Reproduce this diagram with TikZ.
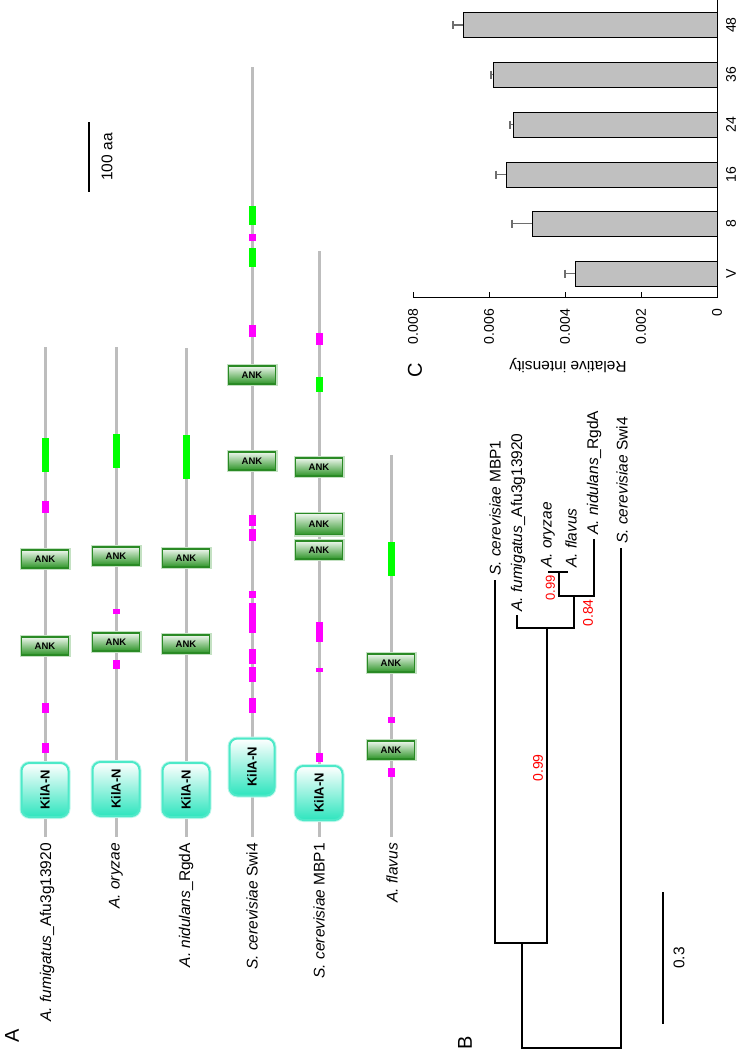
\documentclass[tikz,border=0pt]{standalone}
\usepackage{fontspec}
\setmainfont{Liberation Sans}
\definecolor{DomGrey}{HTML}{BDBDBD}
\definecolor{DomPink}{HTML}{FF00FF}
\definecolor{DomLime}{HTML}{00FF00}
\definecolor{AnkGreen}{HTML}{2E9528}
\definecolor{AnkEdge}{HTML}{2A8A25}
\definecolor{KilaTeal}{HTML}{2EE5BE}
\definecolor{BarGrey}{HTML}{C0C0C0}
\definecolor{ErrGrey}{HTML}{6E6E6E}
\newcommand\spfont{\fontsize{15.5}{18}\selectfont}
\tikzset{chain/.style={draw=DomGrey,line width=3pt},
pinkbit/.style={fill=DomPink},limebit/.style={fill=DomLime},
ank/.style={draw=AnkEdge,line width=1.4pt,top color=AnkGreen!8,bottom color=AnkGreen,
minimum width=47pt,minimum height=18pt,inner sep=0pt,preaction={draw=AnkGreen!28,line width=4pt},
font=\bfseries\fontsize{9.5}{10}\selectfont},
kila/.style={draw=KilaTeal!85,line width=2pt,rounded corners=8pt,top color=white,bottom color=KilaTeal,
minimum width=47pt,minimum height=54pt,inner sep=0pt,preaction={draw=KilaTeal!30,line width=4pt,rounded corners=8pt},
font=\bfseries\fontsize{13}{13}\selectfont},
species/.style={rotate=90,anchor=west,inner sep=0pt,font=\spfont},
vlabel/.style={rotate=90,inner sep=0pt,font=\spfont},
boot/.style={rotate=90,inner sep=0pt,text=red,font=\fontsize{14}{14}\selectfont},
panel/.style={rotate=90,inner sep=0pt,font=\fontsize{20}{20}\selectfont},
branch/.style={draw=black,line width=2pt},
bar/.style={draw=black,line width=1pt,fill=BarGrey},
errbar/.style={draw=ErrGrey,line width=1.2pt}}
\begin{document}
\begin{tikzpicture}[x=1pt,y=-1pt]
\useasboundingbox (0,0) rectangle (738,1050);
% A: domain maps
\foreach \x/\t in {45/347,116/347,186/348,252/67,319/251,391/455}
  \draw[chain] (\x,\t) -- (\x,837);
\foreach \x/\a/\b in {45/438/472,116/434/468,186/435/479,252/206/225,252/248/267,319/377/392,391/542/576}
  \fill[limebit] (\x-3.5,\a) rectangle (\x+3.5,\b);
\foreach \x/\a/\b in {45/501/513,45/703/713,45/743/753,116/609/614,116/660/669,
  252/234/241,252/325/337,252/515/526,252/529/541,252/591/598,252/603/633,252/649/664,252/667/682,252/698/713,
  319/333/345,319/622/642,319/668/672,319/753/762,391/717/723,391/768/777}
  \fill[pinkbit] (\x-3.5,\a) rectangle (\x+3.5,\b);
\node[ank](fumank1) at (45,559){ANK};\node[ank](fumank2) at (45,646){ANK};
\node[ank](oryank1) at (116,556){ANK};\node[ank](oryank2) at (116,642){ANK};
\node[ank](nidank1) at (186,558){ANK};\node[ank](nidank2) at (186,644){ANK};
\node[ank](swiank1) at (252,375){ANK};\node[ank](swiank2) at (252,461){ANK};
\node[ank](mbpank1) at (319,467){ANK};\node[ank,minimum height=21pt](mbpank2) at (319,524){ANK};
\node[ank](mbpank3) at (319,550){ANK};
\node[ank](flaank1) at (391,663){ANK};\node[ank](flaank2) at (391,750){ANK};
\node[kila](fumkila) at (45,790){\rotatebox{90}{KilA-N}};
\node[kila](orykila) at (116,789){\rotatebox{90}{KilA-N}};
\node[kila](nidkila) at (186,790){\rotatebox{90}{KilA-N}};
\node[kila,minimum height=57pt,minimum width=45pt](swikila) at (252,767){\rotatebox{90}{KilA-N}};
\node[kila](mbpkila) at (319,793){\rotatebox{90}{KilA-N}};
\node[species,anchor=east](fumname) at (47,843){\textit{A. fumigatus}\_Afu3g13920};
\node[species,anchor=east](oryname) at (116,843){\textit{A. oryzae}};
\node[species,anchor=east](nidname) at (186,843){\textit{A. nidulans}\_RgdA};
\node[species,anchor=east](swiname) at (252,843){\textit{S. cerevisiae} Swi4};
\node[species,anchor=east](mbpname) at (319,843){\textit{S. cerevisiae} MBP1};
\node[species,anchor=east](flaname) at (392,843){\textit{A. flavus}};
\draw[line width=2.5pt] (89,122) -- (89,192);
\node[vlabel](aabar) at (107,157){100 aa};
\node[panel](panA) at (12,1036){A};
% B: tree
\coordinate (root) at (571,1048);
\coordinate (c1) at (522,943);\coordinate (c2) at (547,628);
\coordinate (c3) at (574,596);\coordinate (c4) at (559,572);
\coordinate (lswi) at (621,548);\coordinate (lmbp) at (495,580);
\coordinate (lfum) at (517,615);\coordinate (lnid) at (594,539);
\coordinate (lory) at (548,572);\coordinate (lfla) at (568,572);
\foreach \p/\a/\b in {root/c1/lswi,c1/lmbp/c2,c2/lfum/c3,c3/c4/lnid,c4/lory/lfla}
  \draw[branch] (\a) -- (\a |- \p) -- (\b |- \p) -- (\b);
\node[species](tmbp) at (495,576){\textit{S. cerevisiae} MBP1};
\node[species](tfum) at (518,612){\textit{A. fumigatus}\_Afu3g13920};
\node[species](tory) at (548,568){\textit{A. oryzae}};
\node[species](tfla) at (571,568){\textit{A. flavus}};
\node[species](tnid) at (594,535){\textit{A. nidulans}\_RgdA};
\node[species](tswi) at (622,544){\textit{S. cerevisiae} Swi4};
\node[boot,font=\fontsize{13}{13}\selectfont](bs1) at (550.5,588){0.99};
\node[boot](bs2) at (588,613){0.84};
\node[boot](bs3) at (538,768){0.99};
\draw[line width=2.5pt] (663,892) -- (663,1024);
\node[vlabel](treebar) at (679,958){0.3};
\node[panel](panB) at (465,1043){B};
% C: bar chart
\foreach \c/\yc/\xl/\xe in {48/25/463/453,36/74.5/493/491,24/124.5/513/510,16/174.5/506/496,8/223.5/532/512,V/273.5/575/565}{
  \draw[errbar] (\xl,\yc) -- (\xe,\yc) (\xe,\yc-4) -- (\xe,\yc+4);
  \draw[bar] (\xl,\yc-12.5) rectangle (717,\yc+12.5);
  \node[vlabel,font=\fontsize{14}{14}\selectfont](cat\c) at (731,\yc){\c};}
\draw[line width=1pt] (717,0) -- (717,297) -- (413,297);
\foreach \v/\x in {0.008/413,0.006/489,0.004/565,0.002/641,0/717}{
  \draw[line width=1pt] (\x,297) -- (\x,292);
  \node[vlabel,anchor=east,font=\fontsize{14}{14}\selectfont](tick\x) at (\x,309){\v};}
\node[rotate=180,inner sep=0pt,font=\spfont](yname) at (568,366){Relative intensity};
\node[panel](panC) at (415,370){C};
\end{tikzpicture}
\end{document}
